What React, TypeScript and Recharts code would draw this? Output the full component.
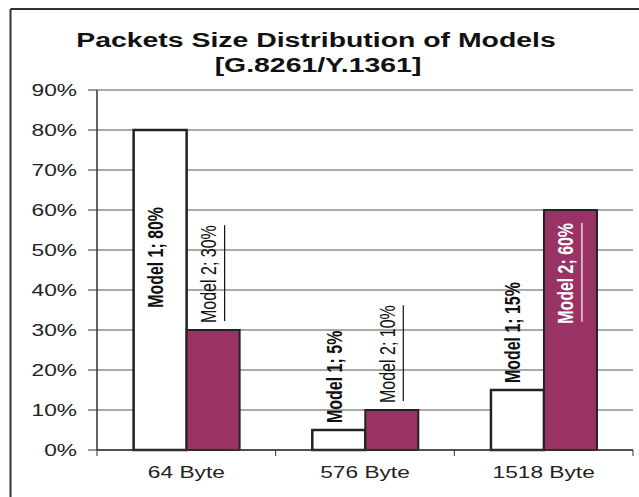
import React from 'react';
import { BarChart, Bar, XAxis, YAxis, CartesianGrid, LabelList } from 'recharts';

const categories = ['64 Byte', '576 Byte', '1518 Byte'];
const model1 = [80, 5, 15];
const model2 = [30, 10, 60];
const yTicks = [0, 10, 20, 30, 40, 50, 60, 70, 80, 90];

const W = 639;
const H = 497;
const PLOT_TOP = 90;
const PLOT_LEFT = 97;
const PLOT_RIGHT_MARGIN = 6;
const PLOT_W = W - PLOT_LEFT - PLOT_RIGHT_MARGIN;
const FONT = '"Liberation Sans", Arial, Helvetica, sans-serif';
const STRETCH = 1.42; // the source picture is stretched sideways
const PLUM = '#993366';

const data = categories.map((c, i) => ({ category: c, m1: model1[i], m2: model2[i] }));

const YTick = (props: any) => {
  const { x, y, payload } = props;
  return (
    <text
      transform={`translate(${x - 9},${y}) scale(${STRETCH},1)`}
      textAnchor="end"
      dy="0.36em"
      fontSize={16}
      fontFamily={FONT}
      fill="#222"
    >
      {payload.value}%
    </text>
  );
};

const XTick = (props: any) => {
  const { x, y, payload, index } = props;
  const band = PLOT_W / categories.length;
  const axisY = y - 8;
  return (
    <g>
      <line x1={x - band / 2} x2={x - band / 2} y1={axisY} y2={axisY + 6} stroke="#333" />
      {index === categories.length - 1 && (
        <line x1={x + band / 2} x2={x + band / 2} y1={axisY} y2={axisY + 6} stroke="#333" />
      )}
      <text
        transform={`translate(${x},${y + 20}) scale(${STRETCH},1)`}
        textAnchor="middle"
        fontSize={16}
        fontFamily={FONT}
        fill="#222"
      >
        {payload.value}
      </text>
    </g>
  );
};

const makeLabel = (series: number) => (props: any) => {
  const { x, y, width, value } = props;
  const text = `Model ${series}; ${value}%`;
  const inside = value >= 60;
  const bold = series === 1 || inside;
  const len = text.length * (bold ? 8.4 : 8.15);
  const cx = x + width / 2 + 3;
  let start: number;
  if (inside) {
    const top = Math.max(y + 13, PLOT_TOP + 117);
    start = top + len;
  } else {
    start = y - 7;
  }
  const color = inside && series === 2 ? '#fff' : '#111';
  return (
    <g>
      <text
        transform={`translate(${cx},${start}) scale(1.35,1) rotate(-90)`}
        textAnchor="start"
        fontSize={16}
        fontWeight={bold ? 'bold' : 'normal'}
        fontFamily={FONT}
        fill={color}
        textLength={len}
        lengthAdjust="spacingAndGlyphs"
      >
        {text}
      </text>
      {series === 2 && (
        <line x1={cx + 8.5} x2={cx + 8.5} y1={start - 2} y2={start - len} stroke={color} strokeWidth={1.2} />
      )}
    </g>
  );
};

export default function App() {
  return (
    <div style={{ position: 'absolute', left: 0, top: 0, width: W, height: H, background: '#fff' }}>
      <BarChart
        width={W}
        height={H}
        data={data}
        margin={{ top: PLOT_TOP, right: PLOT_RIGHT_MARGIN, bottom: 17, left: 0 }}
        barCategoryGap="20.5%"
        barGap={0}
      >
        <CartesianGrid yAxisId="l" vertical={false} stroke="#555" />
        <XAxis
          dataKey="category"
          height={30}
          interval={0}
          tickLine={false}
          axisLine={{ stroke: '#333', strokeWidth: 1.5 }}
          tick={<XTick />}
        />
        <YAxis
          yAxisId="l"
          domain={[0, 90]}
          ticks={yTicks}
          interval={0}
          width={PLOT_LEFT}
          tickSize={9}
          tickLine={{ stroke: '#333' }}
          axisLine={{ stroke: '#333', strokeWidth: 1.5 }}
          tick={<YTick />}
        />
        <YAxis
          yAxisId="r"
          orientation="right"
          domain={[0, 90]}
          width={0}
          tick={false}
          tickLine={false}
          axisLine={{ stroke: '#999', strokeWidth: 1.5 }}
        />
        <Bar yAxisId="l" dataKey="m1" name="Model 1" fill="#fff" stroke="#222" strokeWidth={2.5} isAnimationActive={false}>
          <LabelList dataKey="m1" content={makeLabel(1)} />
        </Bar>
        <Bar yAxisId="l" dataKey="m2" name="Model 2" fill={PLUM} stroke="#222" strokeWidth={2} isAnimationActive={false}>
          <LabelList dataKey="m2" content={makeLabel(2)} />
        </Bar>
      </BarChart>
      <svg width={W} height={H} style={{ position: 'absolute', left: 0, top: 0, pointerEvents: 'none' }}>
        <line x1={10.5} x2={W} y1={9} y2={9} stroke="#333" strokeWidth={2} />
        <line x1={10.5} x2={10.5} y1={9} y2={H} stroke="#333" strokeWidth={2} />
        <text
          transform={`translate(316,47) scale(${STRETCH},1)`}
          textAnchor="middle"
          fontSize={20}
          fontWeight="bold"
          fontFamily={FONT}
          fill="#111"
        >
          Packets Size Distribution of Models
        </text>
        <text
          transform={`translate(318,72) scale(${STRETCH},1)`}
          textAnchor="middle"
          fontSize={20}
          fontWeight="bold"
          fontFamily={FONT}
          fill="#111"
        >
          [G.8261/Y.1361]
        </text>
      </svg>
    </div>
  );
}
